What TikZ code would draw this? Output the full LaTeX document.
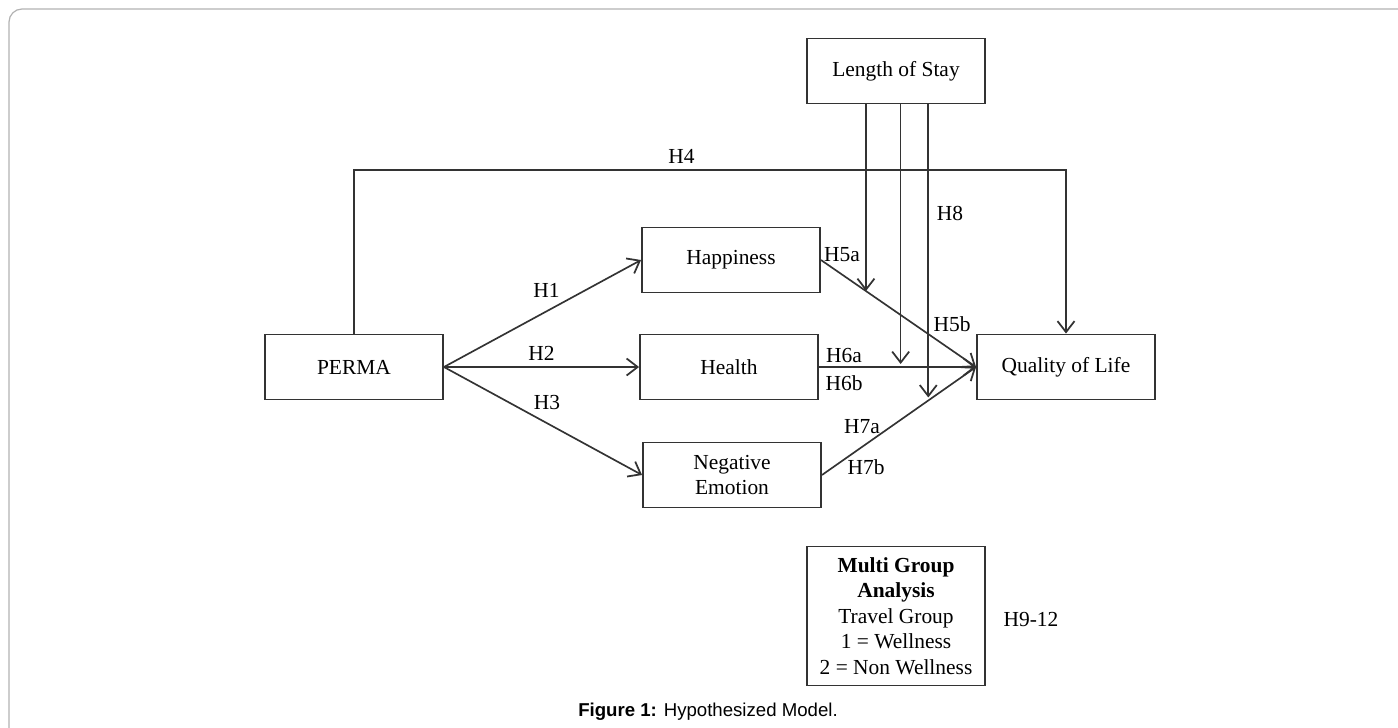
\documentclass[tikz,border=0pt]{standalone}
\usepackage{fontspec}
\setmainfont{Liberation Serif}
\newfontfamily\capfont{Liberation Sans}
\usepackage{tikz}
\usetikzlibrary{arrows.meta, positioning}

\begin{document}
\begin{tikzpicture}[
				x=0.02cm, y=-0.02cm,
				font=\fontsize{12.2}{14.5}\selectfont,
				construct/.style={rectangle, draw=black!80, line width=1.1pt, fill=white, minimum width=3.56cm, minimum height=1.3cm, align=center},
				arrow/.style={-{Straight Barb[length=2.2mm, width=3.4mm, line width=1pt]}, draw=black!80, line width=0.95pt},
				link/.style={draw=black!80, line width=0.95pt}
				]
				
				\useasboundingbox (0,0) rectangle (1398,727);
				\draw[gray!60, line width=0.7pt, rounded corners=0.26cm] (9,740) -- (9,9) -- (1410,9);
				
				\node[construct] (stay) at (896,71) {Length of Stay};
				\node[construct] (perma) at (354,367) {PERMA};
				\node[construct] (happy) at (731,260) {Happiness};
				\node[construct] (health) at (729,367) {Health};
				\node[construct] (negemo) at (732,475) {Negative\\Emotion};
				\node[construct] (qol) at (1066,367) {Quality of Life};
				\node[construct, minimum height=2.78cm] (mga) at (896,616) {\textbf{Multi Group}\\\textbf{Analysis}\\Travel Group\\1 = Wellness\\2 = Non Wellness};
				\node (h912) at (1031,619) {H9-12};
				
				\draw[arrow] (perma.east) -- node[above=4pt, pos=0.52]{H1} (happy.west);
				\draw[arrow] (perma.east) -- node[above]{H2} (health.west);
				\draw[arrow] (perma.east) -- node[above=4pt, pos=0.52]{H3} (negemo.west);
				
				\draw[arrow] (perma.north) -- (354,170) -- node[above, pos=0.46]{H4} (qol.north |- 0,170) -- (qol.north);
				
				\draw[arrow] (happy.east) -- coordinate[pos=0.29] (m5) (qol.west);
				\draw[arrow] (health.east) -- coordinate[pos=0.52] (m6) (qol.west);
				\draw[arrow] (negemo.east) -- coordinate[pos=0.69] (m7) (qol.west);
				
				\draw[arrow] (stay.south -| m5) -- (m5);
				\draw[arrow] (stay.south -| m6) -- ([yshift=0.06cm]m6);
				\draw[arrow] (stay.south -| m7) -- ([yshift=0.06cm]m7);
				
				\node at (842,255) {H5a};
				\node at (952,324) {H5b};
				\node at (844,356) {H6a};
				\node at (844,383) {H6b};
				\node at (862,427) {H7a};
				\node at (866,467) {H7b};
				\node at (950,213) {H8};
				
				\node[font=\capfont\fontsize{10.6}{12}\selectfont] (caption) at (708,712) {\textbf{Figure 1:} Hypothesized Model.};
				
			\end{tikzpicture}
\end{document}
